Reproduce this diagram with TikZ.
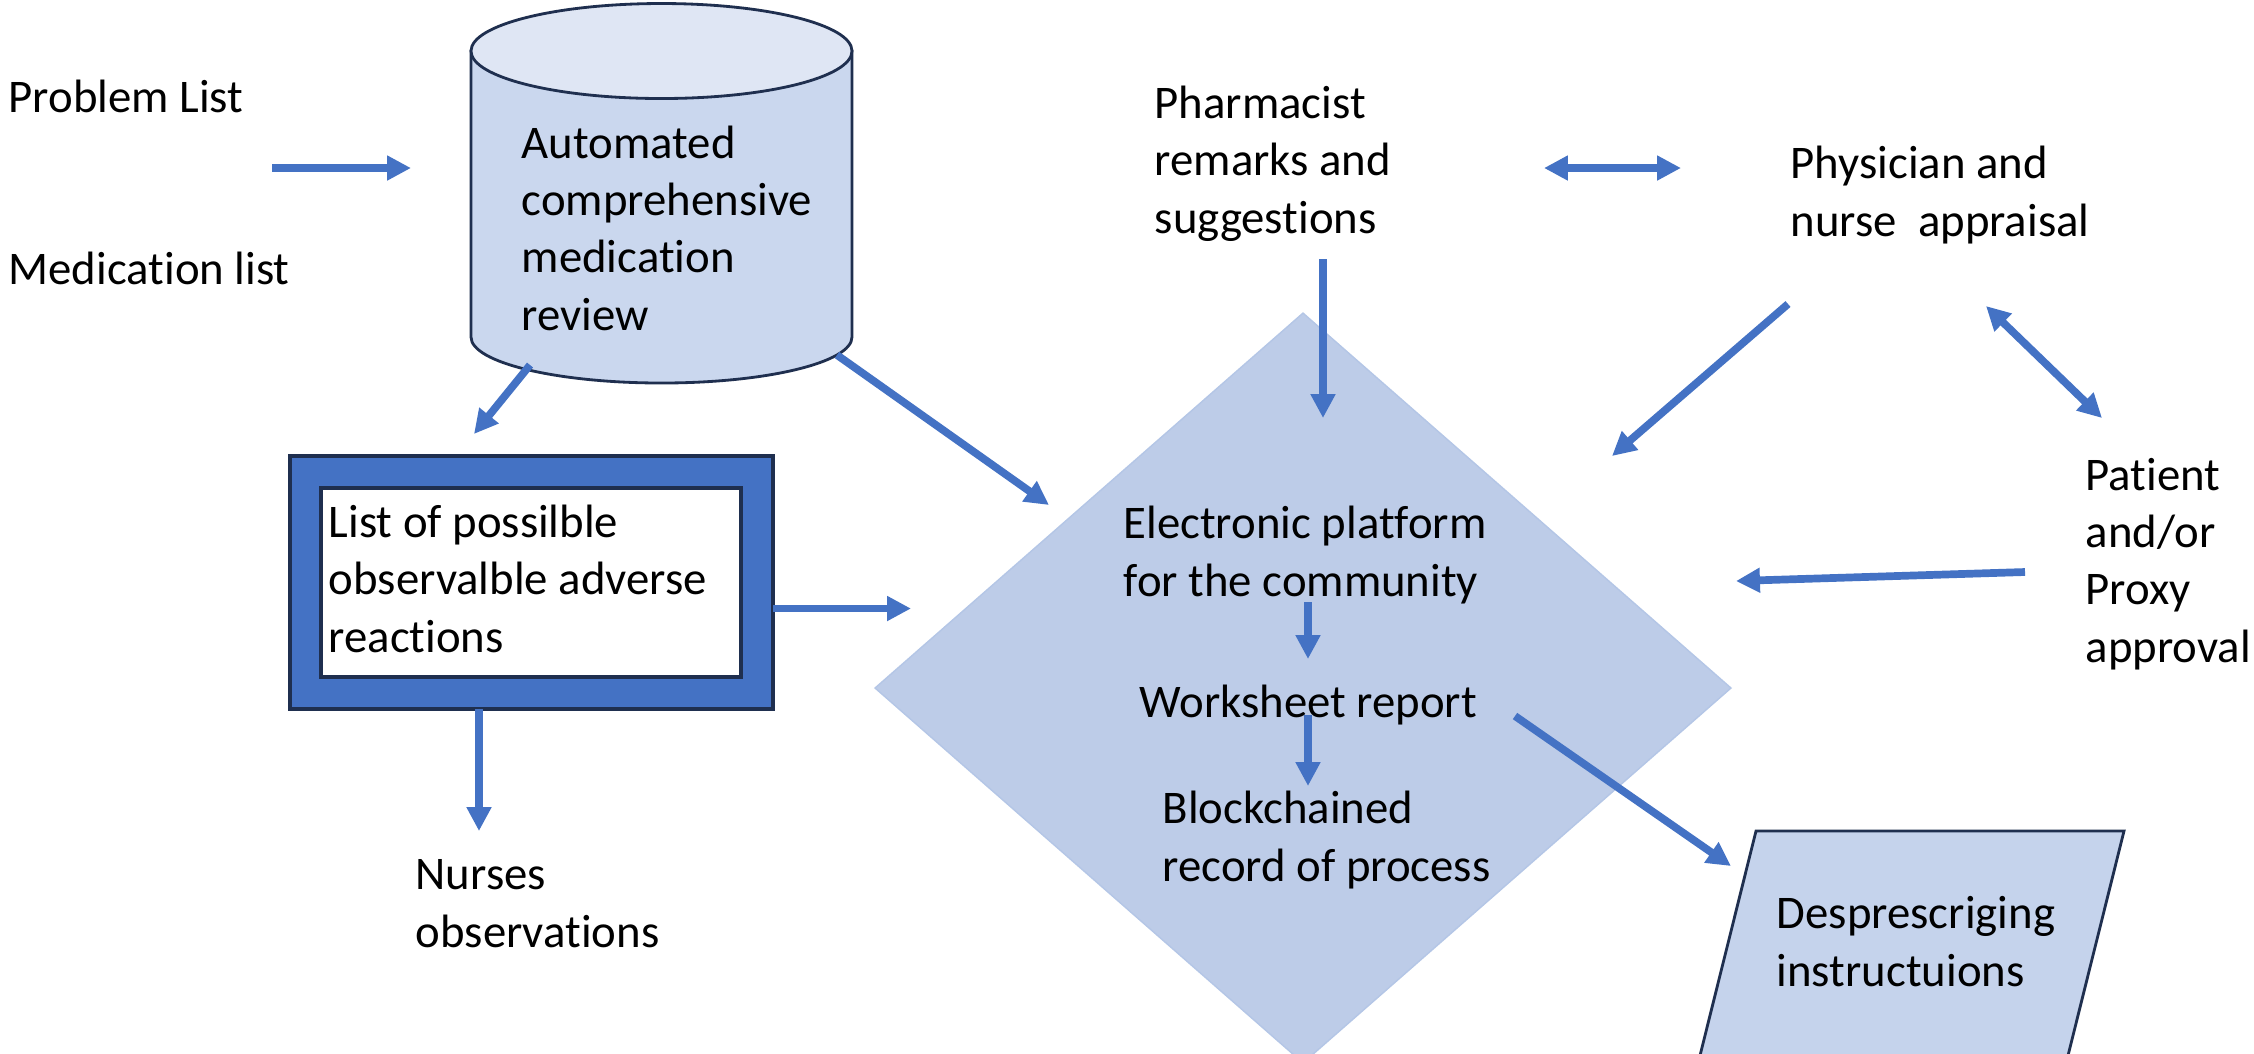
\documentclass[tikz,border=0pt]{standalone}
\usepackage{fontspec}
\setmainfont{Carlito}[Ligatures={NoCommon}]
\usetikzlibrary{arrows.meta,shapes.geometric}
\definecolor{arrowblue}{HTML}{4472C4}
\definecolor{navy}{HTML}{1F2F4F}
\definecolor{cylbody}{HTML}{CAD7EE}
\definecolor{cyltop}{HTML}{DFE6F4}
\definecolor{diafill}{HTML}{BDCCE8}
\definecolor{diaedge}{HTML}{B4C6E6}
\definecolor{parafill}{HTML}{C5D3EC}
\tikzset{
  lbl/.style={anchor=base west, inner sep=0pt, align=left, text=black,
              font=\fontsize{13.3pt}{16.3pt}\selectfont},
  flow/.style={draw=arrowblue, line width=2.19pt,
               -{Triangle[length=6.8pt,width=6.7pt]}},
  flowboth/.style={draw=arrowblue, line width=2.19pt,
               {Triangle[length=6.8pt,width=6.7pt]}-{Triangle[length=6.8pt,width=6.7pt]}},
  outline/.style={draw=navy, line width=0.8pt}
}
\begin{document}
\begin{tikzpicture}[x=0.01cm, y=-0.01cm]
\useasboundingbox (0,0) rectangle (2254,1053);
\clip (0,0) rectangle (2254,1053);
\fill[white] (0,0) rectangle (2254,1053);

% diamond platform
\node[diamond, fill=diafill, draw=diaedge, inner sep=0pt,
      minimum width=85.6mm, minimum height=75mm] (platform) at (1303,688) {};

% cylinder
\path[outline, fill=cylbody] (471,51) -- (471,337)
   arc[start angle=180, end angle=0, x radius=190.5, y radius=46]
   -- (852,51) -- cycle;
\path[outline, fill=cyltop] (661.5,51) ellipse[x radius=190.5, y radius=47.5];

% list box
\path[draw=navy, line width=0.9pt, fill=arrowblue] (290,456) rectangle (773,709);
\path[draw=navy, line width=0.9pt, fill=white] (321,488) rectangle (741,677);

% parallelogram
\path[outline, fill=parafill] (1756,831) -- (2124,831) -- (2056.9,1100) -- (1688.9,1100) -- cycle;

% texts (anchor = baseline of the last line)
\node[lbl] (problem) at (8,112) {Problem List};
\node[lbl] (medlist) at (8,284) {Medication list};
\node[lbl] (cyl) at (521,330) {Automated\\comprehensive\\medication\\review};
\node[lbl] (adr) at (328,652) {List of possilble\\observalble adverse\\reactions};
\node[lbl] (nurses) at (415,947) {Nurses\\observations};
\node[lbl] (pharm) at (1154,233) {Pharmacist\\remarks and\\suggestions};
\node[lbl] (phys) at (1790,236) {Physician and\\nurse\ \ appraisal};
\node[lbl] (patient) at (2085,662) {Patient\\and/or\\Proxy\\approval};
\node[lbl] (elec) at (1123,596) {Electronic platform\\for the community};
\node[lbl] (work) at (1139,717) {Worksheet report};
\node[lbl] (block) at (1162,881) {Blockchained\\record of process};
\node[lbl] (depres) at (1776,986) {Desprescriging\\instructuions};

% arrow end points
\coordinate (a1s) at (272,168);   \coordinate (a1e) at (411,168);
\coordinate (a2s) at (530,365);   \coordinate (a2e) at (474,434);
\coordinate (a3s) at (837,355);   \coordinate (a3e) at (1049,505);
\coordinate (a4s) at (773,608.5); \coordinate (a4e) at (911,608.5);
\coordinate (a5s) at (479,709);   \coordinate (a5e) at (479,831);
\coordinate (a6s) at (1544,168);  \coordinate (a6e) at (1681,168);
\coordinate (a7s) at (1323,259);  \coordinate (a7e) at (1323,418);
\coordinate (a8s) at (1788,304);  \coordinate (a8e) at (1612,456);
\coordinate (a9s) at (1986,306);  \coordinate (a9e) at (2102,418);
\coordinate (a10s) at (2025,572); \coordinate (a10e) at (1736,581);
\coordinate (a11s) at (1308,602); \coordinate (a11e) at (1308,659);
\coordinate (a12s) at (1308,715); \coordinate (a12e) at (1308,786);
\coordinate (a13s) at (1515,716); \coordinate (a13e) at (1731,866);

% connectors
\draw[flow] (a1s) -- (a1e);
\draw[flow] (a2s) -- (a2e);
\draw[flow] (a3s) -- (a3e);
\draw[flow] (a4s) -- (a4e);
\draw[flow] (a5s) -- (a5e);
\draw[flowboth] (a6s) -- (a6e);
\draw[flow] (a7s) -- (a7e);
\draw[flow] (a8s) -- (a8e);
\draw[flowboth] (a9s) -- (a9e);
\draw[flow] (a10s) -- (a10e);
\draw[flow] (a11s) -- (a11e);
\draw[flow] (a12s) -- (a12e);
\draw[flow] (a13s) -- (a13e);
\end{tikzpicture}
\end{document}
